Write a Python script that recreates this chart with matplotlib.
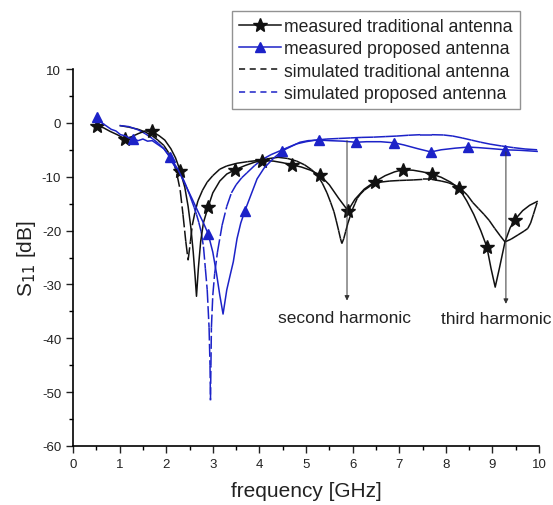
import numpy as np
import matplotlib
matplotlib.use("Agg")
import matplotlib.pyplot as plt
from matplotlib.collections import LineCollection
from matplotlib.lines import Line2D

plt.rcParams['font.family'] = ['Liberation Sans', 'DejaVu Sans']
plt.rcParams['axes.unicode_minus'] = False

BLACK = '#111111'
BLUE = '#1c22c8'

# measured S11 of the traditional antenna
meas_trad_f = [0.52, 0.65, 0.8, 0.95, 1.12, 1.25, 1.4, 1.55, 1.7, 1.85, 1.97, 2.1,
               2.2, 2.3, 2.4, 2.47, 2.53, 2.58, 2.62, 2.65, 2.69, 2.74, 2.8, 2.9,
               3.0, 3.15, 3.3, 3.48, 3.7, 3.9, 4.06, 4.3, 4.5, 4.7, 4.9, 5.1, 5.3,
               5.5, 5.7, 5.9, 6.05, 6.25, 6.48, 6.7, 6.9, 7.08, 7.3, 7.5, 7.7, 7.9,
               8.1, 8.28, 8.45, 8.6, 8.75, 8.88, 8.97, 9.06, 9.15, 9.27, 9.38, 9.48,
               9.65, 9.8, 9.96]
meas_trad_db = [-0.6, -0.9, -1.6, -2.2, -3.0, -2.6, -2.0, -1.5, -1.6, -2.4, -3.2, -4.8,
                -6.5, -8.9, -12.0, -15.5, -19.5, -24.0, -28.5, -32.2, -27.0, -22.0, -18.5, -15.6,
                -13.0, -10.8, -9.5, -8.7, -7.9, -7.3, -7.0, -7.1, -7.4, -7.8, -8.2, -8.8, -9.7,
                -11.5, -14.0, -16.3, -14.2, -12.3, -10.9, -9.8, -9.1, -8.7, -8.8, -9.1, -9.5, -10.1,
                -11.0, -12.1, -14.5, -17.0, -20.0, -23.0, -27.0, -30.5, -27.0, -22.1, -19.5, -18.0,
                -16.3, -15.3, -14.6]
meas_trad_star_f = [0.52, 1.12, 1.7, 2.3, 2.9, 3.48, 4.06, 4.7, 5.3, 5.9, 6.48, 7.08,
                    7.7, 8.28, 8.88, 9.48]

# measured S11 of the proposed antenna
meas_prop_f = [0.52, 0.62, 0.72, 0.82, 0.92, 1.02, 1.12, 1.2, 1.29, 1.4, 1.5, 1.6, 1.7,
               1.8, 1.95, 2.08, 2.25, 2.4, 2.55, 2.7, 2.8, 2.9, 3.0, 3.08, 3.15, 3.22,
               3.3, 3.38, 3.44, 3.52, 3.6, 3.69, 3.8, 3.95, 4.1, 4.3, 4.49, 4.7, 4.87,
               5.05, 5.28, 5.5, 5.8, 6.07, 6.3, 6.6, 6.89, 7.1, 7.4, 7.68, 7.9, 8.2,
               8.48, 8.7, 9.0, 9.27, 9.6, 9.96]
meas_prop_db = [1.0, 0.0, -0.6, -1.2, -1.5, -2.2, -2.4, -2.8, -3.0, -3.3, -3.0, -3.4, -3.3,
                -3.9, -4.8, -6.3, -8.6, -11.3, -14.0, -16.8, -18.6, -20.6, -24.0, -28.0, -32.0, -35.5,
                -31.0, -28.0, -25.8, -21.5, -18.6, -16.3, -13.8, -10.4, -8.4, -6.6, -5.2, -4.3, -3.6,
                -3.3, -3.2, -3.3, -3.4, -3.6, -3.5, -3.5, -3.7, -4.1, -4.8, -5.4, -5.0, -4.7,
                -4.5, -4.6, -4.8, -5.0, -5.1, -5.3]
meas_prop_tri_f = [0.52, 1.29, 2.08, 2.9, 3.69, 4.49, 5.28, 6.07, 6.89, 7.68, 8.48, 9.27]

# simulated S11 of the traditional antenna
sim_trad_f = [1.0, 1.2, 1.4, 1.55, 1.7, 1.82, 1.95, 2.05, 2.15, 2.23, 2.3, 2.36, 2.42,
              2.47, 2.52, 2.56, 2.62, 2.68, 2.78, 2.88, 3.0, 3.15, 3.3, 3.52, 3.75, 3.95,
              4.15, 4.4, 4.6, 4.8, 4.97, 5.12, 5.25, 5.35, 5.45, 5.53, 5.6, 5.65, 5.7,
              5.74, 5.77, 5.81, 5.85, 5.9, 5.95, 6.0, 6.05, 6.1, 6.17, 6.25, 6.35, 6.45,
              6.6, 6.8, 7.0, 7.15, 7.3, 7.5, 7.7, 7.9, 8.05, 8.2, 8.33, 8.46, 8.58, 8.7,
              8.82, 8.93, 9.05, 9.17, 9.27, 9.4, 9.55, 9.68, 9.76, 9.82, 9.88, 9.93, 9.96]
sim_trad_db = [-0.5, -0.8, -1.2, -1.7, -2.4, -3.2, -4.2, -5.5, -7.0, -9.5, -12.5, -17.0, -22.0,
               -25.5, -22.0, -19.0, -16.5, -14.5, -12.5, -11.0, -9.8, -8.6, -8.0, -7.5, -7.2, -7.0,
               -6.7, -6.4, -6.6, -7.1, -7.8, -8.7, -9.8, -11.2, -13.0, -14.8, -16.5, -18.2, -20.0,
               -21.5, -22.4, -21.5, -20.2, -18.6, -17.3, -16.0, -15.0, -14.0, -13.2, -12.5, -11.9, -11.3,
               -11.0, -10.8, -10.7, -10.65, -10.6, -10.5, -10.5, -10.8, -11.1, -11.6, -12.3, -13.4, -14.8,
               -15.9, -17.0, -18.1, -19.6, -21.0, -22.1, -21.6, -20.8, -20.1, -19.6, -18.6, -17.0, -15.6,
               -14.8]

# simulated S11 of the proposed antenna
sim_prop_f = [1.0, 1.2, 1.4, 1.55, 1.7, 1.83, 1.95, 2.05, 2.12, 2.2, 2.27, 2.34, 2.4,
              2.45, 2.5, 2.55, 2.6, 2.65, 2.7, 2.75, 2.8, 2.84, 2.88, 2.92, 2.94, 2.95,
              2.96, 2.97, 3.0, 3.04, 3.1, 3.2, 3.3, 3.4, 3.5, 3.62, 3.73, 3.9, 4.08, 4.25,
              4.44, 4.6, 4.8, 5.0, 5.2, 5.45, 5.7, 5.95, 6.2, 6.45, 6.7, 6.95, 7.2, 7.45,
              7.7, 7.95, 8.15, 8.35, 8.55, 8.75, 8.95, 9.2, 9.45, 9.7, 9.96]
sim_prop_db = [-0.5, -0.7, -1.3, -2.0, -2.9, -3.8, -4.8, -6.0, -7.2, -8.3, -9.1, -10.0, -11.1,
               -12.2, -13.3, -14.5, -15.7, -17.0, -18.5, -20.2, -23.0, -27.0, -31.0, -38.0, -45.0, -51.5,
               -45.0, -38.0, -32.0, -28.0, -24.0, -19.0, -15.5, -13.0, -11.5, -10.2, -9.3, -7.9, -6.7, -5.9,
               -5.2, -4.6, -3.9, -3.5, -3.2, -3.0, -2.9, -2.8, -2.7, -2.65, -2.55, -2.45, -2.3, -2.2,
               -2.2, -2.25, -2.45, -2.8, -3.2, -3.6, -3.95, -4.3, -4.6, -4.85, -5.0]

# harmonic annotations
harm_labels = ['second harmonic', 'third harmonic']
harm_f = [5.88, 9.29]
harm_top = [-3.3, -5.4]
harm_tip = [-33.0, -33.6]
harm_text_f = [5.83, 9.08]
harm_text_db = [-36.1, -36.4]

fig = plt.figure(figsize=(5.53, 5.06), dpi=100)
ax = fig.add_axes([73 / 553, 1 - 447 / 506, (539 - 73) / 553, (447 - 70) / 506])

LW = 1.1
SIM_DASH = (0, (8.5, 2.2))


def dashed_trace(f, db, color):
    """Draw a trace segment by segment so each segment restarts its dash."""
    pts = np.column_stack([f, db])
    segs = np.stack([pts[:-1], pts[1:]], axis=1)
    lc = LineCollection(segs, colors=color, linewidths=LW, linestyles=[SIM_DASH],
                        capstyle='butt', zorder=2)
    ax.add_collection(lc)


dashed_trace(sim_trad_f, sim_trad_db, BLACK)
dashed_trace(sim_prop_f, sim_prop_db, BLUE)

mt_f = np.array(meas_trad_f)
ax.plot(mt_f, meas_trad_db, color=BLACK, lw=LW, marker='*', ms=10,
        markevery=list(np.flatnonzero(np.isin(mt_f, meas_trad_star_f))), zorder=3)
mp_f = np.array(meas_prop_f)
ax.plot(mp_f, meas_prop_db, color=BLUE, lw=LW, marker='^', ms=6.5,
        markevery=list(np.flatnonzero(np.isin(mp_f, meas_prop_tri_f))), zorder=3)

for lab, hf, ht, hb, tf, tdb in zip(harm_labels, harm_f, harm_top, harm_tip,
                                     harm_text_f, harm_text_db):
    ax.annotate('', xy=(hf, hb), xytext=(hf, ht),
                arrowprops=dict(arrowstyle='-|>', color='#333333', lw=0.7,
                                mutation_scale=7, shrinkA=0, shrinkB=0), zorder=4)
    ax.text(tf, tdb, lab, ha='center', va='center', fontsize=12.5, color='#222222')

ax.set_xlim(0, 10)
ax.set_ylim(-60, 10)
ax.set_xticks(np.arange(0, 11, 1))
ax.set_xticks(np.arange(0.5, 10, 1), minor=True)
ax.set_yticks(np.arange(-60, 11, 10))
ax.set_yticks(np.arange(-55, 10, 10), minor=True)
ax.tick_params(which='major', direction='out', length=5, width=1.0, labelsize=9.5,
               colors='#222222')
ax.tick_params(which='minor', direction='out', length=3, width=1.0)
for side in ('top', 'right'):
    ax.spines[side].set_visible(False)
for side in ('left', 'bottom'):
    ax.spines[side].set_linewidth(1.2)

ax.set_xlabel('frequency [GHz]', fontsize=15, labelpad=8, color='#222222')
ax.set_ylabel('S$_{11}$ [dB]', fontsize=15, labelpad=3, color='#222222')

handles = [
    Line2D([], [], color=BLACK, lw=LW, marker='*', ms=10),
    Line2D([], [], color=BLUE, lw=LW, marker='^', ms=6.5),
    Line2D([], [], color=BLACK, lw=LW, linestyle=(0, (4, 3))),
    Line2D([], [], color=BLUE, lw=LW, linestyle=(0, (4, 3))),
]
labels = ['measured traditional antenna', 'measured proposed antenna',
          'simulated traditional antenna', 'simulated proposed antenna']
leg = fig.legend(handles, labels, loc='upper left',
                 bbox_to_anchor=(232 / 553, 1 - 12 / 506), fontsize=12.7,
                 frameon=True, fancybox=False, edgecolor='#777777',
                 handlelength=2.4, handletextpad=0.17, labelspacing=0.3,
                 borderpad=0.4, borderaxespad=0)
leg.get_frame().set_linewidth(1.0)
for t in leg.get_texts():
    t.set_color('#222222')

fig.savefig('out.png', dpi=100)
